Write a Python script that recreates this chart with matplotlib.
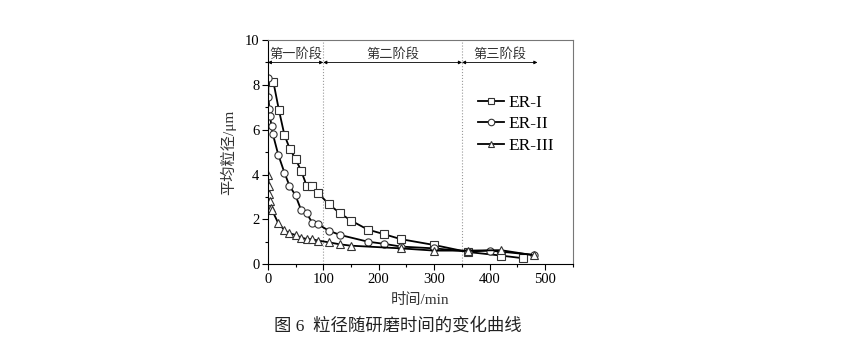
import numpy as np
import matplotlib.pyplot as plt
from matplotlib.ticker import MultipleLocator

plt.rcParams['font.family'] = ['Liberation Serif', 'Noto Sans CJK SC']

# data
x1 = [10, 20, 30, 40, 50, 60, 70, 80, 90, 110, 130, 150, 180, 210, 240, 300, 360, 420, 460]
y1 = [8.15, 6.89, 5.77, 5.13, 4.70, 4.18, 3.51, 3.51, 3.20, 2.68, 2.28, 1.95, 1.55, 1.34, 1.12, 0.86, 0.55, 0.39, 0.27]

x2 = [1, 1, 3, 4, 7, 9, 19, 30, 39, 50, 60, 70, 80, 90, 110, 130, 180, 210, 240, 300, 360, 400, 480]
y2 = [8.3, 7.44, 6.92, 6.59, 6.15, 5.82, 4.88, 4.09, 3.51, 3.07, 2.43, 2.28, 1.86, 1.79, 1.50, 1.31, 1.01, 0.91, 0.79, 0.71, 0.57, 0.61, 0.42]

x3 = [1, 2, 3, 4, 5, 8, 19, 30, 39, 50, 60, 70, 80, 90, 110, 130, 150, 240, 300, 360, 420, 480]
y3 = [4.0, 3.5, 3.12, 2.8, 2.5, 2.4, 1.83, 1.53, 1.38, 1.31, 1.19, 1.13, 1.12, 1.06, 0.98, 0.89, 0.83, 0.71, 0.61, 0.61, 0.63, 0.40]

stage_names = ['第一阶段', '第二阶段', '第三阶段']
stage_edges = [(0, 100), (100, 350), (350, 486)]

fig = plt.figure(figsize=(8.42, 3.44), dpi=100)
ax = fig.add_axes([0.318, 0.2317, 0.3625, 0.652])

mk = dict(color='black', lw=1.3, mfc='white', mec='#333333', ms=5.2, mew=0.8)
ax.plot(x1, y1, '-s', label='ER-I', **mk)
ax.plot(x2, y2, '-o', label='ER-II', **mk)
ax.plot(x3, y3, '-^', label='ER-III', **mk)

for xv in [100, 350]:
    ax.axvline(xv, color='#999999', ls=':', lw=0.8, zorder=0)

for name, (a, b) in zip(stage_names, stage_edges):
    ax.annotate('', xy=(a, 9.0), xytext=(b, 9.0),
                arrowprops=dict(arrowstyle='<|-|>', color='black', lw=0.6,
                                mutation_scale=5, shrinkA=0, shrinkB=0))
    ax.text((a + b) / 2, 9.08, name, ha='center', va='bottom', fontsize=9.5, color='#333333')

ax.set_xlim(0, 550)
ax.set_ylim(0, 10)
ax.xaxis.set_major_locator(MultipleLocator(100))
ax.xaxis.set_minor_locator(MultipleLocator(50))
ax.yaxis.set_major_locator(MultipleLocator(2))
ax.yaxis.set_minor_locator(MultipleLocator(1))
ax.tick_params(which='major', direction='out', length=4, width=0.8, labelsize=10.5, pad=2)
ax.tick_params(which='minor', direction='out', length=2, width=0.8)
for s in ['right', 'top']:
    ax.spines[s].set_color('#777777')
    ax.spines[s].set_linewidth(0.8)

ax.set_xlabel('时间/min', fontsize=11, labelpad=5, color='#333333')
ax.set_ylabel('平均粒径/μm', fontsize=11, labelpad=6, color='#333333')

ax.legend(loc='upper left', bbox_to_anchor=(0.69, 0.755), frameon=False, fontsize=12.5,
          handlelength=1.5, handletextpad=0.25, labelspacing=0.3,
          borderpad=0, borderaxespad=0, markerscale=0.9)

fig.text(0.473, 0.05, '图 6  粒径随研磨时间的变化曲线', ha='center', va='center', fontsize=12.5, color='#222222')

fig.savefig('out.png', dpi=100)
